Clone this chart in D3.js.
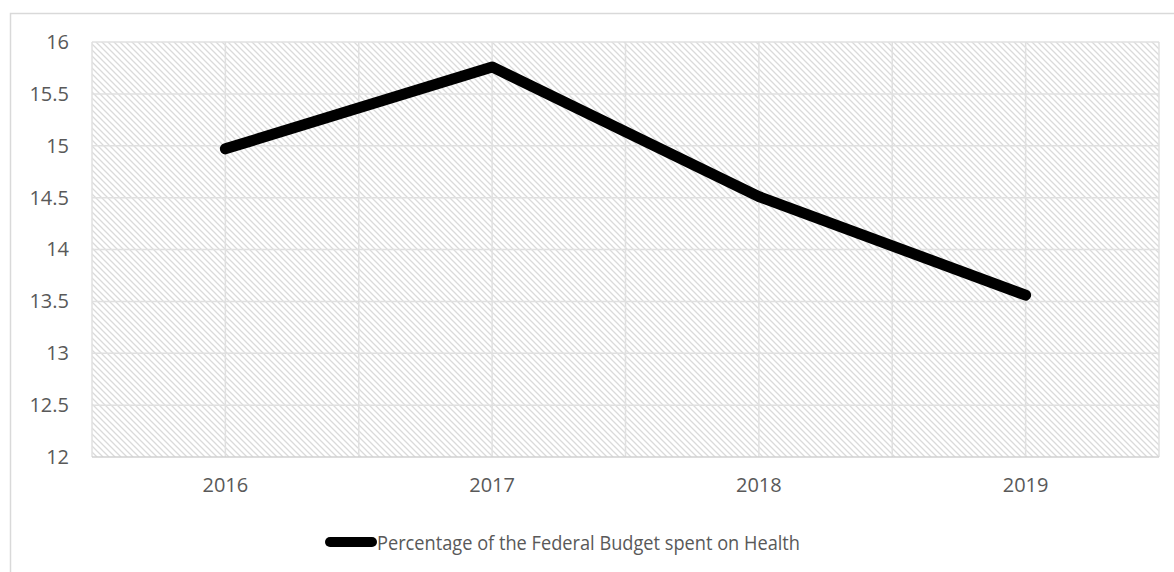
<!DOCTYPE html>
<html>
<head>
<meta charset="utf-8">
<script src="https://cdn.jsdelivr.net/npm/d3@7"></script>
<style>
  body { margin: 0; background: #fff; }
  text { font-family: "Open Sans", sans-serif; fill: #595959; }
</style>
</head>
<body>
<svg id="chart" width="1174" height="572"></svg>
<script>
var years = ['2016', '2017', '2018', '2019'];
var healthShare = [14.97, 15.76, 14.51, 13.56];
var yTicks = [12, 12.5, 13, 13.5, 14, 14.5, 15, 15.5, 16];
var seriesName = 'Percentage of the Federal Budget spent on Health';

var width = 1174, height = 572;
var plot = {left: 92, top: 42, right: 1159, bottom: 457};

var svg = d3.select('#chart');

// hatch fill like the excel plot area
var defs = svg.append('defs');
var pat = defs.append('pattern')
    .attr('id', 'hatch')
    .attr('patternUnits', 'userSpaceOnUse')
    .attr('width', 6)
    .attr('height', 6);
pat.append('path')
    .attr('d', 'M-1,-1 L7,7 M-4,2 L2,8 M4,-2 L10,4')
    .attr('stroke', '#dadada')
    .attr('stroke-width', 1.3);

// outer chart border
svg.append('rect')
    .attr('x', 10.5).attr('y', 13.5)
    .attr('width', 1300).attr('height', 700)
    .attr('fill', 'none')
    .attr('stroke', '#d9d9d9')
    .attr('stroke-width', 1.5);

var x = d3.scaleBand()
    .domain(years)
    .range([plot.left, plot.right]);

var y = d3.scaleLinear()
    .domain([12, 16])
    .range([plot.bottom, plot.top]);

svg.append('rect')
    .attr('x', plot.left).attr('y', plot.top)
    .attr('width', plot.right - plot.left)
    .attr('height', plot.bottom - plot.top)
    .attr('fill', 'url(#hatch)');

// vertical gridlines at band edges and centres
var vLines = [];
years.forEach(function(d) {
    vLines.push(x(d));
    vLines.push(x(d) + x.bandwidth() / 2);
});
vLines.push(plot.right);

svg.append('g')
    .selectAll('line')
    .data(vLines)
    .enter()
    .append('line')
    .attr('x1', d => d).attr('x2', d => d)
    .attr('y1', plot.top).attr('y2', plot.bottom)
    .attr('stroke', '#e0e0e0')
    .attr('stroke-width', 1.5);

svg.append('g')
    .selectAll('line')
    .data(yTicks)
    .enter()
    .append('line')
    .attr('x1', plot.left).attr('x2', plot.right)
    .attr('y1', d => y(d)).attr('y2', d => y(d))
    .attr('stroke', d => d === 12 ? '#d0d0d0' : '#e0e0e0')
    .attr('stroke-width', 1.5);

// y axis labels
var yAxis = svg.append('g')
    .attr('transform', 'translate(' + (plot.left - 23) + ',0)')
    .call(d3.axisLeft(y).tickValues(yTicks).tickSize(0).tickPadding(0).tickFormat(d => String(d)));
yAxis.select('.domain').remove();
yAxis.selectAll('text')
    .attr('font-size', 20)
    .attr('font-family', '"Open Sans", sans-serif')
    .attr('fill', '#595959');

// x axis labels
var xAxis = svg.append('g')
    .attr('transform', 'translate(0,' + plot.bottom + ')')
    .call(d3.axisBottom(x).tickSize(0).tickPadding(21));
xAxis.select('.domain').remove();
xAxis.selectAll('text')
    .attr('font-size', 20)
    .attr('font-family', '"Open Sans", sans-serif')
    .attr('fill', '#595959');

var line = d3.line()
    .x((d, i) => x(years[i]) + x.bandwidth() / 2)
    .y(d => y(d));

svg.append('path')
    .datum(healthShare)
    .attr('d', line)
    .attr('fill', 'none')
    .attr('stroke', '#000')
    .attr('stroke-width', 11)
    .attr('stroke-linecap', 'round')
    .attr('stroke-linejoin', 'round');

// legend
var legend = svg.append('g');
legend.append('line')
    .attr('x1', 330).attr('x2', 372)
    .attr('y1', 542).attr('y2', 542)
    .attr('stroke', '#000')
    .attr('stroke-width', 10)
    .attr('stroke-linecap', 'round');
legend.append('text')
    .attr('x', 377)
    .attr('y', 550)
    .attr('font-size', 20)
    .attr('textLength', 423)
    .attr('lengthAdjust', 'spacingAndGlyphs')
    .text(seriesName);
</script>
</body>
</html>
